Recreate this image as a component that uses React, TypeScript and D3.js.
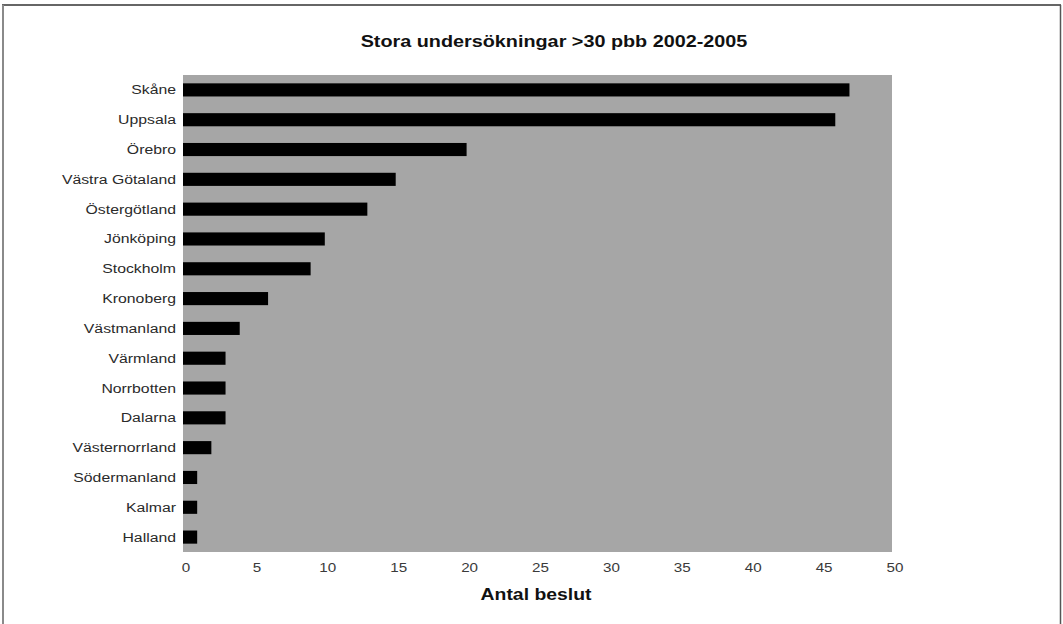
import { useEffect, useRef } from "react";
import * as d3 from "d3";

const WIDTH = 1063;
const HEIGHT = 624;
// the scanned chart is stretched a bit horizontally, so text is too
const STRETCH = 1.17;

const counties = [
  "Skåne",
  "Uppsala",
  "Örebro",
  "Västra Götaland",
  "Östergötland",
  "Jönköping",
  "Stockholm",
  "Kronoberg",
  "Västmanland",
  "Värmland",
  "Norrbotten",
  "Dalarna",
  "Västernorrland",
  "Södermanland",
  "Kalmar",
  "Halland",
];

const decisions = [47, 46, 20, 15, 13, 10, 9, 6, 4, 3, 3, 3, 2, 1, 1, 1];

const xTicks = [0, 5, 10, 15, 20, 25, 30, 35, 40, 45, 50];

const TITLE = "Stora undersökningar >30 pbb 2002-2005";
const X_TITLE = "Antal beslut";

const plot = { left: 183, right: 892, top: 75, bottom: 552 };

export default function App() {
  const svgRef = useRef<SVGSVGElement>(null);

  useEffect(() => {
    document.body.style.margin = "0";
    const svgElement = svgRef.current;
    if (!svgElement) return;

    const svg = d3.select(svgElement);
    svg.selectAll("*").remove();

    const x = d3.scaleLinear().domain([0, 50]).range([plot.left, plot.right]);
    const y = d3
      .scaleBand<string>()
      .domain(counties)
      .range([plot.top, plot.bottom])
      .paddingInner(0.56)
      .paddingOuter(0.28);

    const font = "Liberation Sans, Arial, sans-serif";

    // frame round the whole figure
    svg
      .append("line")
      .attr("x1", 2)
      .attr("x2", 1061)
      .attr("y1", 5)
      .attr("y2", 5)
      .attr("stroke", "#333")
      .attr("stroke-width", 1.5);
    svg
      .append("line")
      .attr("x1", 3)
      .attr("x2", 3)
      .attr("y1", 5)
      .attr("y2", HEIGHT + 2)
      .attr("stroke", "#8a8a8a")
      .attr("stroke-width", 2);
    svg
      .append("line")
      .attr("x1", 1060.5)
      .attr("x2", 1060.5)
      .attr("y1", 5)
      .attr("y2", HEIGHT + 2)
      .attr("stroke", "#555")
      .attr("stroke-width", 1.5);

    svg
      .append("rect")
      .attr("x", plot.left)
      .attr("y", plot.top)
      .attr("width", plot.right - plot.left)
      .attr("height", plot.bottom - plot.top)
      .attr("fill", "#a6a6a6");

    svg
      .append("g")
      .selectAll("rect")
      .data(counties)
      .join("rect")
      .attr("x", x(0))
      .attr("y", (d) => y(d) ?? 0)
      .attr("width", (d, i) => x(decisions[i]) - x(0))
      .attr("height", y.bandwidth())
      .attr("fill", "#000");

    svg
      .append("g")
      .selectAll("text")
      .data(counties)
      .join("text")
      .attr(
        "transform",
        (d) => `translate(176,${(y(d) ?? 0) + y.bandwidth() / 2 + 4.5}) scale(${STRETCH},1)`,
      )
      .attr("text-anchor", "end")
      .attr("font-family", font)
      .attr("font-size", 13.5)
      .attr("fill", "#2a2a2a")
      .text((d) => d);

    svg
      .append("g")
      .selectAll("text")
      .data(xTicks)
      .join("text")
      .attr("transform", (d) => `translate(${x(d) + 3},572) scale(${STRETCH},1)`)
      .attr("text-anchor", "middle")
      .attr("font-family", font)
      .attr("font-size", 13)
      .attr("fill", "#3a3a3a")
      .text((d) => d);

    svg
      .append("text")
      .attr("transform", `translate(554,46.5) scale(${STRETCH + 0.03},1)`)
      .attr("text-anchor", "middle")
      .attr("font-family", font)
      .attr("font-weight", "bold")
      .attr("font-size", 16.5)
      .attr("fill", "#111")
      .text(TITLE);

    svg
      .append("text")
      .attr("transform", `translate(536,600) scale(${STRETCH - 0.03},1)`)
      .attr("text-anchor", "middle")
      .attr("font-family", font)
      .attr("font-weight", "bold")
      .attr("font-size", 17)
      .attr("fill", "#111")
      .text(X_TITLE);
  }, []);

  return (
    <svg
      ref={svgRef}
      width={WIDTH}
      height={HEIGHT}
      style={{ display: "block", background: "#fff" }}
    />
  );
}
